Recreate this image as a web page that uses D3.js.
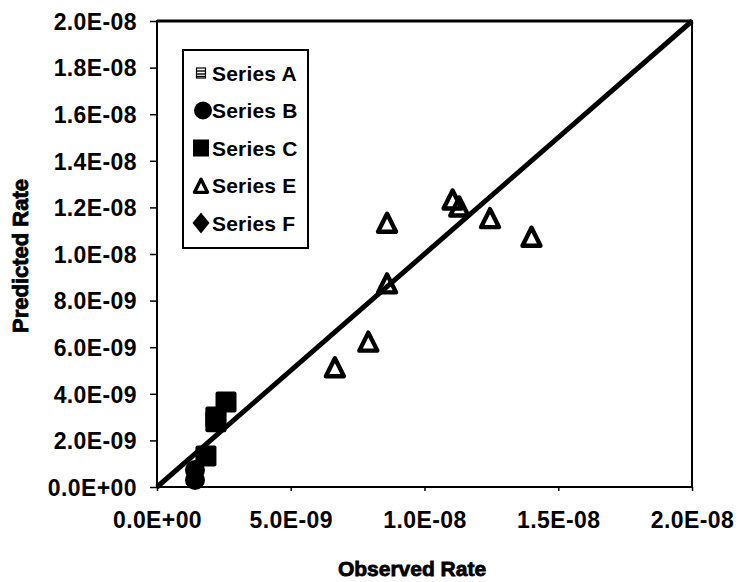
<!DOCTYPE html>
<html>
<head>
<meta charset="utf-8">
<script src="https://cdn.jsdelivr.net/npm/d3@7/dist/d3.min.js"></script>
<style>
  html, body { margin: 0; padding: 0; background: #fff; }
  svg { display: block; }
  .tick text, .lbl { font-family: "Liberation Sans", Arial, sans-serif; font-weight: bold; fill: #000; }
</style>
</head>
<body>
<svg id="chart" width="738" height="582"></svg>
<script>
// Axis ticks and labels
const xTicks = [0, 5e-9, 1e-8, 1.5e-8, 2e-8];
const xTickLabels = ["0.0E+00", "5.0E-09", "1.0E-08", "1.5E-08", "2.0E-08"];
const yTicks = [0, 2e-9, 4e-9, 6e-9, 8e-9, 1e-8, 1.2e-8, 1.4e-8, 1.6e-8, 1.8e-8, 2e-8];
const yTickLabels = ["0.0E+00", "2.0E-09", "4.0E-09", "6.0E-09", "8.0E-09", "1.0E-08",
                     "1.2E-08", "1.4E-08", "1.6E-08", "1.8E-08", "2.0E-08"];

// Legend entries
const seriesNames = ["Series A", "Series B", "Series C", "Series E", "Series F"];

// Observed / predicted rates per series
const seriesB_obs = [1.42e-9, 1.42e-9];
const seriesB_pred = [0.73e-9, 0.30e-9];
const seriesC_obs = [1.83e-9, 2.20e-9, 2.20e-9, 2.58e-9];
const seriesC_pred = [1.33e-9, 2.80e-9, 3.00e-9, 3.65e-9];
const seriesE_obs = [6.65e-9, 7.90e-9, 8.60e-9, 8.60e-9, 11.05e-9, 11.30e-9, 12.45e-9, 14.0e-9];
const seriesE_pred = [5.10e-9, 6.20e-9, 8.70e-9, 11.30e-9, 12.30e-9, 12.00e-9, 11.50e-9, 10.70e-9];

// 1:1 reference line
const refLine = [0, 2e-8];

const svg = d3.select("#chart");
const plotL = 157, plotR = 692, plotT = 21, plotB = 487;

const x = d3.scaleLinear().domain([0, 2e-8]).range([plotL, plotR]);
const y = d3.scaleLinear().domain([0, 2e-8]).range([plotB, plotT]);

// Plot frame
svg.append("rect")
  .attr("x", plotL).attr("y", plotT)
  .attr("width", plotR - plotL).attr("height", plotB - plotT)
  .attr("fill", "none").attr("stroke", "#000").attr("stroke-width", 2);
svg.append("line")
  .attr("x1", plotL).attr("x2", plotR).attr("y1", plotT).attr("y2", plotT)
  .attr("stroke", "#000").attr("stroke-width", 3);

// Y axis
const yAxis = svg.append("g")
  .attr("transform", `translate(${plotL},0)`)
  .call(d3.axisLeft(y).tickValues(yTicks)
    .tickFormat((d, i) => yTickLabels[i])
    .tickSizeInner(7).tickSizeOuter(0).tickPadding(13));
yAxis.select(".domain").remove();
yAxis.selectAll(".tick line").attr("stroke", "#000").attr("stroke-width", 1.5);
yAxis.selectAll(".tick text")
  .style("font-size", "23px").style("letter-spacing", "0.4px")
  .attr("dy", "0.36em");

// X axis
const xAxis = svg.append("g")
  .attr("transform", `translate(0,${plotB})`)
  .call(d3.axisBottom(x).tickValues(xTicks)
    .tickFormat((d, i) => xTickLabels[i])
    .tickSizeInner(4).tickSizeOuter(0).tickPadding(21));
xAxis.select(".domain").remove();
xAxis.selectAll(".tick line").attr("stroke", "#000").attr("stroke-width", 1.5);
xAxis.selectAll(".tick text")
  .style("font-size", "23px").style("letter-spacing", "0.4px");

// Axis titles
svg.append("text").attr("class", "lbl")
  .attr("x", 412).attr("y", 576)
  .attr("text-anchor", "middle")
  .style("font-size", "21px").attr("stroke", "#000").attr("stroke-width", 0.8)
  .text("Observed Rate");
svg.append("text").attr("class", "lbl")
  .attr("transform", `translate(28,256) rotate(-90)`)
  .attr("text-anchor", "middle")
  .style("font-size", "22px").attr("stroke", "#000").attr("stroke-width", 0.8)
  .text("Predicted Rate");

// 1:1 line
svg.append("line")
  .attr("x1", x(refLine[0])).attr("y1", y(refLine[0]))
  .attr("x2", x(refLine[1])).attr("y2", y(refLine[1]))
  .attr("stroke", "#000").attr("stroke-width", 5);

// Marker shapes
const tri = (s) => `M0,${-s * 0.55}L${s * 0.5},${s * 0.45}L${-s * 0.5},${s * 0.45}Z`;
const diamond = (w, h) => `M0,${-h / 2}L${w / 2},0L0,${h / 2}L${-w / 2},0Z`;

// Series B: filled circles
svg.append("g").selectAll("circle")
  .data(d3.range(seriesB_obs.length))
  .join("circle")
  .attr("cx", i => x(seriesB_obs[i])).attr("cy", i => y(seriesB_pred[i]))
  .attr("r", 10).attr("fill", "#000");

// Series C: filled squares
svg.append("g").selectAll("rect")
  .data(d3.range(seriesC_obs.length))
  .join("rect")
  .attr("x", i => x(seriesC_obs[i]) - 10.5).attr("y", i => y(seriesC_pred[i]) - 10.5)
  .attr("width", 21).attr("height", 21).attr("rx", 2).attr("fill", "#000");

// Series E: open triangles
svg.append("g").selectAll("path")
  .data(d3.range(seriesE_obs.length))
  .join("path")
  .attr("transform", i => `translate(${x(seriesE_obs[i])},${y(seriesE_pred[i])})`)
  .attr("d", tri(18))
  .attr("fill", "none").attr("stroke", "#000").attr("stroke-width", 4.4)
  .attr("stroke-linejoin", "round");

// Legend
const lg = svg.append("g");
lg.append("rect")
  .attr("x", 183).attr("y", 50).attr("width", 125).attr("height", 198)
  .attr("fill", "#fff").attr("stroke", "#000").attr("stroke-width", 2);
const rowY = d3.scalePoint().domain(seriesNames).range([73, 223]);
const mx = 201;
seriesNames.forEach((name, i) => {
  const cy = rowY(name);
  if (i === 0) {
    const m = lg.append("g").attr("transform", `translate(${mx},${cy})`);
    m.append("rect").attr("x", -4.5).attr("y", -5).attr("width", 9).attr("height", 10)
      .attr("fill", "none").attr("stroke", "#000").attr("stroke-width", 1.2);
    [-2, 1, 3.5].forEach(dy => m.append("line")
      .attr("x1", -4).attr("x2", 4).attr("y1", dy).attr("y2", dy)
      .attr("stroke", "#000").attr("stroke-width", 1.4));
  } else if (i === 1) {
    lg.append("circle").attr("cx", mx + 2).attr("cy", cy).attr("r", 9).attr("fill", "#000");
  } else if (i === 2) {
    lg.append("rect").attr("x", mx - 8).attr("y", cy - 8.5).attr("width", 16).attr("height", 17)
      .attr("fill", "#000");
  } else if (i === 3) {
    lg.append("path").attr("transform", `translate(${mx},${cy + 1})`)
      .attr("d", tri(13)).attr("fill", "none").attr("stroke", "#000").attr("stroke-width", 3.4)
      .attr("stroke-linejoin", "round");
  } else {
    lg.append("path").attr("transform", `translate(${mx},${cy})`)
      .attr("d", diamond(17, 21)).attr("fill", "#000");
  }
  lg.append("text").attr("class", "lbl")
    .attr("x", 212).attr("y", cy).attr("dy", "0.36em")
    .style("font-size", "21px").style("letter-spacing", "0.2px")
    .text(name);
});
</script>
</body>
</html>
